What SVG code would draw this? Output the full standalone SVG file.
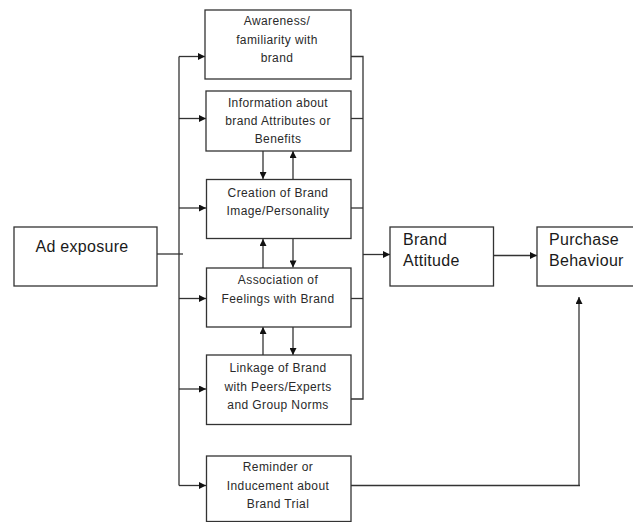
<svg xmlns="http://www.w3.org/2000/svg" width="633" height="522" viewBox="0 0 633 522">
<style>
.box{fill:#fff;stroke:#333;stroke-width:1.3}
.ln{fill:none;stroke:#333;stroke-width:1.3}
.t{font-family:"Liberation Sans",Arial,sans-serif;font-size:12px;letter-spacing:0.4px;fill:#2a2a2a;text-anchor:middle}
.big{font-family:"Liberation Sans",Arial,sans-serif;font-size:16px;letter-spacing:0.3px;fill:#1a1a1a}
</style>
<defs>
<marker id="ah" viewBox="0 0 10 10" refX="10" refY="5" markerWidth="7.5" markerHeight="7" markerUnits="userSpaceOnUse" orient="auto">
<path d="M0,0 L10,5 L0,10 z" fill="#111"/>
</marker>
</defs>
<g id="connectors">
<path class="ln" d="M157,254 H183"/>
<path class="ln" d="M179,56.5 V485.5"/>
<path class="ln" d="M179,56.5 H205" marker-end="url(#ah)"/>
<path class="ln" d="M179,118.5 H206" marker-end="url(#ah)"/>
<path class="ln" d="M179,208 H206" marker-end="url(#ah)"/>
<path class="ln" d="M179,298.5 H206" marker-end="url(#ah)"/>
<path class="ln" d="M179,389 H206" marker-end="url(#ah)"/>
<path class="ln" d="M179,485.5 H206" marker-end="url(#ah)"/>
<path class="ln" d="M351,56.5 H363 V399 H351"/>
<path class="ln" d="M351,118.5 H363"/>
<path class="ln" d="M351,208 H363"/>
<path class="ln" d="M351,298.5 H363"/>
<path class="ln" d="M363,254.5 H390" marker-end="url(#ah)"/>
<path class="ln" d="M493,255.5 H537" marker-end="url(#ah)"/>
<path class="ln" d="M351,485.5 H580"/>
<path class="ln" d="M579,486 V297" marker-end="url(#ah)"/>
<path class="ln" d="M263,151 V179" marker-end="url(#ah)"/>
<path class="ln" d="M293,179 V151" marker-end="url(#ah)"/>
<path class="ln" d="M263,268 V239" marker-end="url(#ah)"/>
<path class="ln" d="M293,238.5 V267.5" marker-end="url(#ah)"/>
<path class="ln" d="M263,355 V327" marker-end="url(#ah)"/>
<path class="ln" d="M293,327 V355" marker-end="url(#ah)"/>
</g>
<g id="ad-exposure">
<rect class="box" x="14" y="227" width="143" height="59"/>
<text class="big" x="82" y="251.5" text-anchor="middle">Ad exposure</text>
</g>
<g id="awareness">
<rect class="box" x="205" y="10" width="146" height="69"/>
<text class="t" x="277" y="25">Awareness/</text>
<text class="t" x="277" y="43.5">familiarity with</text>
<text class="t" x="277" y="61.5">brand</text>
</g>
<g id="information">
<rect class="box" x="206" y="91" width="145" height="60"/>
<text class="t" x="278" y="106.5">Information about</text>
<text class="t" x="278" y="125">brand Attributes or</text>
<text class="t" x="278" y="143">Benefits</text>
</g>
<g id="creation">
<rect class="box" x="206.5" y="179.5" width="144.5" height="59"/>
<text class="t" x="278" y="196.5">Creation of Brand</text>
<text class="t" x="278" y="215">Image/Personality</text>
</g>
<g id="association">
<rect class="box" x="206.5" y="268" width="144.5" height="59"/>
<text class="t" x="278" y="283.5">Association  of</text>
<text class="t" x="278" y="302.5">Feelings with Brand</text>
</g>
<g id="linkage">
<rect class="box" x="206.5" y="355" width="144.5" height="69.5"/>
<text class="t" x="278" y="372">Linkage of Brand</text>
<text class="t" x="278" y="390.5">with  Peers/Experts</text>
<text class="t" x="278" y="409">and Group Norms</text>
</g>
<g id="reminder">
<rect class="box" x="206.5" y="456" width="144.5" height="65.5"/>
<text class="t" x="278" y="471">Reminder or</text>
<text class="t" x="278" y="489.5">Inducement about</text>
<text class="t" x="278" y="507.5">Brand Trial</text>
</g>
<g id="brand-attitude">
<rect class="box" x="390" y="227" width="103.5" height="59"/>
<text class="big" x="403" y="245">Brand</text>
<text class="big" x="403" y="266">Attitude</text>
</g>
<g id="purchase-behaviour">
<rect class="box" x="537" y="227" width="110" height="59"/>
<text class="big" x="549" y="245">Purchase</text>
<text class="big" x="549" y="266">Behaviour</text>
</g>
</svg>
